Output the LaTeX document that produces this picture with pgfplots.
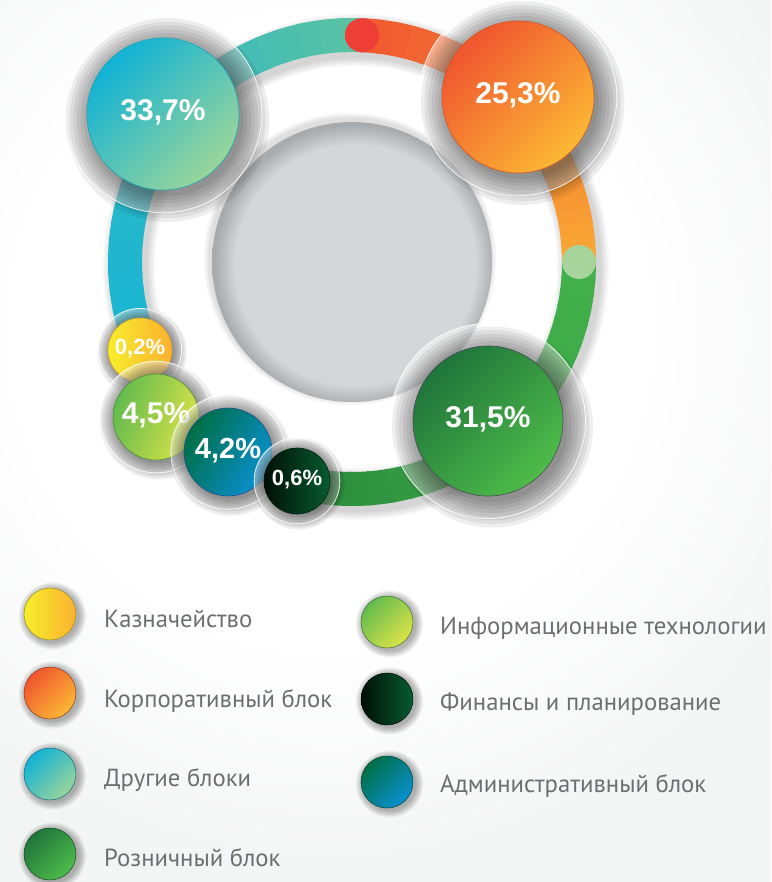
\documentclass[border=0pt]{standalone}
\usepackage{pgfplots}
\pgfplotsset{compat=1.18}
\usepackage{pgfplotstable}
\usepackage{fontspec}
\setmainfont{PT Sans}
\newfontfamily\numfont{Liberation Sans}

\definecolor{bggray}{HTML}{F3F4F4}
\definecolor{cgray}{HTML}{D4D7D8}
\definecolor{cgrayD}{HTML}{A9ACAE}
\definecolor{legtext}{HTML}{6D6E71}
% ring colours
\definecolor{rCyan}{HTML}{19B5D3}
\definecolor{rCyanT}{HTML}{2CB8C8}
\definecolor{rTeal}{HTML}{5AC2A3}
\definecolor{rRed}{HTML}{EF3E36}
\definecolor{rOr1}{HTML}{F15A31}
\definecolor{rOr2}{HTML}{F47E30}
\definecolor{rOr3}{HTML}{F9A834}
\definecolor{rDot}{HTML}{A6D49A}
\definecolor{rGr1}{HTML}{41B04A}
\definecolor{rGr2}{HTML}{3DA948}
\definecolor{rGr3}{HTML}{2B8A3D}
% bubble colours: A = start (top-left), B = end (bottom-right), L = outline
\definecolor{bubA0}{HTML}{F7EE2C}\definecolor{bubB0}{HTML}{FBB02F}\definecolor{bubL0}{HTML}{D9A020}
\definecolor{bubA1}{HTML}{62BB4E}\definecolor{bubB1}{HTML}{DCE348}\definecolor{bubL1}{HTML}{4E8F3A}
\definecolor{bubA2}{HTML}{006F45}\definecolor{bubB2}{HTML}{0A90D2}\definecolor{bubL2}{HTML}{1F4F8F}
\definecolor{bubA3}{HTML}{000F05}\definecolor{bubB3}{HTML}{075C30}\definecolor{bubL3}{HTML}{00200E}
\definecolor{bubA4}{HTML}{10B2D6}\definecolor{bubB4}{HTML}{9AD59A}\definecolor{bubL4}{HTML}{1AA6B6}
\definecolor{bubA5}{HTML}{F0552F}\definecolor{bubB5}{HTML}{FCB834}\definecolor{bubL5}{HTML}{D35420}
\definecolor{bubA6}{HTML}{1F753B}\definecolor{bubB6}{HTML}{4EBB49}\definecolor{bubL6}{HTML}{4A4A5A}

\pgfdeclareradialshading{bgshade}{\pgfpointorigin}{color(0bp)=(white); color(14bp)=(white); color(25bp)=(bggray); color(50bp)=(bggray)}
\pgfdeclareradialshading{centershade}{\pgfpoint{1bp}{-1bp}}{color(0bp)=(cgray); color(21.5bp)=(cgray); color(25bp)=(cgrayD); color(50bp)=(cgrayD)}

% x y (pixels), radius, share (%), colour index, shading angle (90 = left->right, 45 = top-left -> bottom-right), font size
\pgfplotstableread{
x   y   r   v     c  ang  fs
140 350 32  0.2   0  90   22
156 417 43  4.5   1  70   30
228 452 44  4.2   2  60   29
297 481 33  0.6   3  90   22
163 114 76  33.7  4  45   30
518 97  76  25.3  5  45   30
488 421 75  31.5  6  45   30
}\bubbles

\newcommand\ringseg[4]{%
  \foreach \i in {0,...,11}{%
    \pgfmathsetmacro\sa{#1+(#2-#1)*\i/12}%
    \pgfmathsetmacro\ea{#1+(#2-#1)*(\i+1.2)/12}%
    \pgfmathtruncatemacro\p{100*\i/11}%
    \draw[line width=34pt, color=#4!\p!#3] (352pt,-262pt) ++(\sa:227pt) arc[start angle=\sa, end angle=\ea, radius=227pt];
  }}

\newcommand\legcircle[5]{% x, y, colA, colB, angle
  \foreach \k in {0,...,5}{%
    \fill[black, fill opacity=0.055, draw=none] (#1pt+2.5pt,-#2pt-2pt) circle[radius={27pt+1.3pt*\k}];
  }
  \shade[left color=#3, right color=#4, shading angle=#5, draw=none] (#1pt,-#2pt) circle[radius=26pt];
  \draw[#3!60!black, line width=0.5pt] (#1pt,-#2pt) circle[radius=26pt];
}

\begin{document}
\begin{tikzpicture}
\useasboundingbox (0,0) rectangle (771pt,-882pt);
% background
\fill[bggray] (0,0) rectangle (771pt,-882pt);
\begin{scope}
\clip (0,0) rectangle (771pt,-882pt);
\shade[shading=bgshade] (330pt,-330pt) circle[radius=560pt];
\end{scope}
% ring shadow
\foreach \k in {1,...,7}{%
  \draw[line width={34pt+2.6pt*\k}, black, draw opacity=0.022] (356pt,-267pt) ++(200:227pt) arc[start angle=200, end angle=-104, radius=227pt];
}
% ring
\ringseg{200}{150}{rCyan}{rCyanT}
\ringseg{150}{87.5}{rCyanT}{rTeal}
\ringseg{87.5}{40}{rOr1}{rOr2}
\ringseg{40}{0}{rOr2}{rOr3}
\ringseg{0}{-45}{rGr1}{rGr2}
\ringseg{-45}{-105}{rGr2}{rGr3}
\fill[rRed] (352pt,-262pt) ++(87.5:227pt) circle[radius=17pt];
\fill[rDot] (352pt,-262pt) ++(0:227pt) circle[radius=17pt];
% centre disc
\foreach \k in {1,...,4}{%
  \fill[black, fill opacity=0.03] (350pt,-259pt) circle[radius={140pt+1.5pt*\k}];
}
\shade[shading=centershade] (352pt,-262pt) circle[radius=140pt];

\begin{axis}[at={(0pt,0pt)}, anchor=north west, scale only axis,
  width=771pt, height=882pt, xmin=0, xmax=771, ymin=0, ymax=882,
  y dir=reverse, hide axis, clip=false]
\addplot[scatter, only marks, mark=*, mark size=0.01pt,
  mark options={draw=none, fill=none},
  point meta=\thisrow{v},
  visualization depends on={\thisrow{r} \as \rad},
  visualization depends on={\thisrow{v} \as \val},
  visualization depends on={\thisrow{ang} \as \ang},
  visualization depends on={\thisrow{fs} \as \fs},
  visualization depends on={\thisrow{c} \as \cidx},
  scatter/@pre marker code/.code={%
    \pgfkeys{/pgf/fpu=false}%
    \pgfmathtruncatemacro\ci{\cidx}%
    \fill[white, fill opacity=0.45, draw=none] (0,0) circle[radius={1.3*\rad*1pt}];
    \foreach \k in {0,...,7}{%
      \fill[black, fill opacity=0.065, draw=none] ({0.06*\rad*1pt},{-0.08*\rad*1pt}) circle[radius={(\rad+(0.3*\rad+3)*\k/7)*1pt}];
    }
    \draw[white, draw opacity=0.85, line width=0.8pt, fill=none] (0,0) circle[radius={1.3*\rad*1pt}];
    \shade[left color=bubA\ci, right color=bubB\ci, shading angle=\ang, draw=none] (0,0) circle[radius={\rad*1pt}];
    \draw[bubL\ci, line width=0.6pt, fill=none] (0,0) circle[radius={\rad*1pt}];
    \node[text=white, inner sep=0pt, draw=none, fill=none, font=\numfont\bfseries\fontsize{\fs pt}{\fs pt}\selectfont] at (0,1.5pt)
      {\pgfmathprintnumber[fixed, fixed zerofill, precision=1, use comma, assume math mode=true]{\val}\%};
  },
  scatter/@post marker code/.code={},
] table[x=x, y=y] {\bubbles};
\end{axis}

% legend
\legcircle{50}{614}{bubA0}{bubB0}{90}
\legcircle{50}{693}{bubA5}{bubB5}{45}
\legcircle{50}{774}{bubA4}{bubB4}{45}
\legcircle{50}{854}{bubA6}{bubB6}{45}
\legcircle{387}{622}{bubA1}{bubB1}{45}
\legcircle{387}{699}{bubA3}{bubB3}{90}
\legcircle{387}{782}{bubA2}{bubB2}{45}
\begin{scope}[every node/.style={anchor=base west, text=legtext, inner sep=0pt, font=\fontsize{24.7pt}{28pt}\selectfont}]
\node at (104pt,-627pt) {Казначейство};
\node at (104pt,-707pt) {Корпоративный блок};
\node at (104pt,-786pt) {Другие блоки};
\node at (104pt,-866pt) {Розничный блок};
\node at (440pt,-634pt) {Информационные технологии};
\node at (440pt,-710pt) {Финансы и планирование};
\node at (440pt,-792pt) {Административный блок};
\end{scope}
\end{tikzpicture}
\end{document}
